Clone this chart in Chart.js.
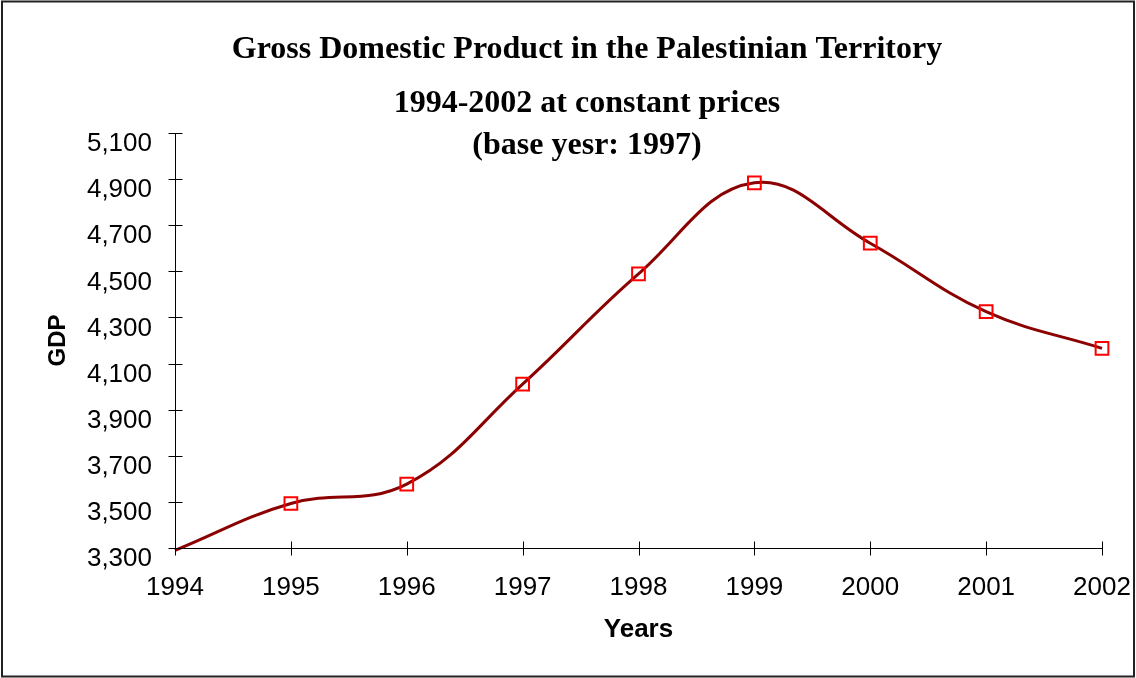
<!DOCTYPE html>
<html><head><meta charset="utf-8">
<script src="https://cdn.jsdelivr.net/npm/chart.js@4/dist/chart.umd.min.js"></script>
<style>html,body{margin:0;padding:0;background:#fff}#wrap{width:1136px;height:678px}</style>
</head><body><div id="wrap"><canvas id="c" width="1136" height="678"></canvas></div>
<script>
const years = ['1994','1995','1996','1997','1998','1999','2000','2001','2002'];
const gdp = [3290, 3493, 3577, 4011, 4489, 4884, 4622, 4325, 4166];
const markerRadius = [0, 9, 9, 9, 9, 9, 9, 9, 9];
const yMin = 3300, yMax = 5100, yStep = 200;
const titleLines = ['Gross Domestic Product in the Palestinian Territory', '1994-2002 at constant prices', '(base yesr: 1997)'];
const xTitle = 'Years';
const yTitle = 'GDP';

const decor = {
  id: 'decor',
  afterDraw(chart) {
    const ctx = chart.ctx;
    ctx.save();
    ctx.strokeStyle = '#222';
    ctx.lineWidth = 2;
    ctx.strokeRect(2, 1.5, 1132, 675);
    ctx.strokeStyle = '#000';
    ctx.lineWidth = 1;
    const xs = chart.scales.x, ys = chart.scales.y;
    const ax = Math.round(ys.right) + 0.5, ay = Math.round(xs.top) + 0.5;
    ys.ticks.forEach((t, i) => {
      const p = Math.round(ys.getPixelForTick(i)) + 0.5;
      ctx.beginPath(); ctx.moveTo(ax - 7, p); ctx.lineTo(ax + 7, p); ctx.stroke();
    });
    xs.ticks.forEach((t, i) => {
      const p = Math.round(xs.getPixelForTick(i)) + 0.5;
      ctx.beginPath(); ctx.moveTo(p, ay - (i === 0 ? 0 : 7)); ctx.lineTo(p, ay + 7); ctx.stroke();
    });
    ctx.fillStyle = '#000';
    ctx.font = 'bold 32px "Liberation Serif", "Times New Roman", serif';
    ctx.textAlign = 'center';
    ctx.textBaseline = 'middle';
    const ty = [50, 104, 146];
    titleLines.forEach((s, i) => ctx.fillText(s, 587, ty[i]));
    ctx.restore();
  }
};

function noPad(s) { s.paddingLeft = 0; s.paddingRight = 0; s.paddingTop = 0; s.paddingBottom = 0; }

new Chart(document.getElementById('c'), {
  type: 'line',
  data: {
    labels: years,
    datasets: [{
      data: gdp,
      borderColor: '#8b0000',
      borderWidth: 3,
      tension: 0.4,
      fill: false,
      clip: false,
      pointStyle: 'rect',
      pointRadius: markerRadius,
      pointHoverRadius: markerRadius,
      pointBorderColor: '#ff0000',
      pointBackgroundColor: 'rgba(0,0,0,0)',
      pointBorderWidth: 2
    }]
  },
  options: {
    responsive: false,
    animation: false,
    devicePixelRatio: 1,
    layout: { padding: { left: 0, top: 133, right: 34, bottom: 0 } },
    plugins: { legend: { display: false }, tooltip: { enabled: false }, title: { display: false } },
    scales: {
      x: {
        type: 'category',
        offset: false,
        grid: { display: false, drawTicks: false },
        border: { display: true, color: '#000', width: 1 },
        ticks: { color: '#000', font: { family: '"Liberation Sans", Arial, sans-serif', size: 26 }, padding: 24, maxRotation: 0, autoSkip: false },
        title: { display: true, text: xTitle, color: '#000', font: { family: '"Liberation Sans", Arial, sans-serif', size: 26, weight: 'bold' }, padding: { top: 0, bottom: 32.4 } },
        afterFit(s) { s.height = 130; noPad(s); }
      },
      y: {
        min: yMin, max: yMax,
        grid: { display: false, drawTicks: false },
        border: { display: true, color: '#000', width: 1 },
        ticks: { stepSize: yStep, color: '#000', font: { family: '"Liberation Sans", Arial, sans-serif', size: 26 }, padding: 23, labelOffset: 11,
          callback: v => Number(v).toLocaleString('en-US') },
        title: { display: true, text: yTitle, color: '#000', font: { family: '"Liberation Sans", Arial, sans-serif', size: 24, weight: 'bold' }, padding: { top: 43.6, bottom: 0 } },
        afterFit(s) { s.width = 175; noPad(s); }
      }
    }
  },
  plugins: [decor]
});
</script>
</body></html>
